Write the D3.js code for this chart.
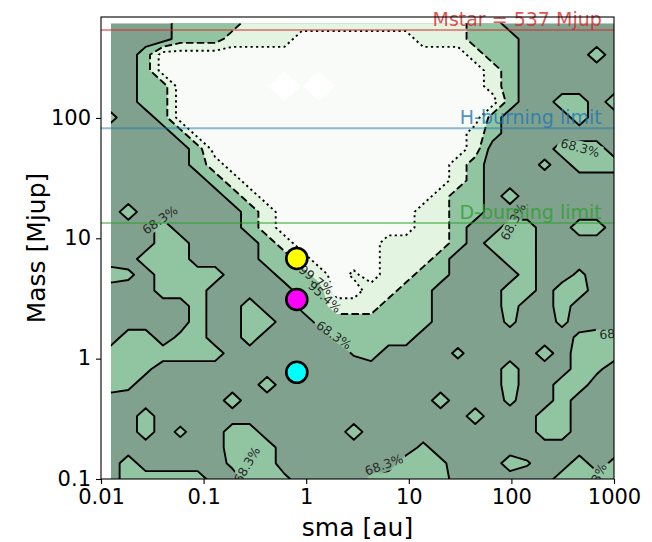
<!DOCTYPE html>
<html><head><meta charset="utf-8">
<script src="https://cdn.jsdelivr.net/npm/d3@7"></script>
<style>body{margin:0;background:#fff}svg{display:block}</style>
</head><body><svg id="c" width="652" height="542"></svg>
<script>
// ---------------- data ----------------
const xDomain = [0.01, 1000];
const yDomain = [0.1, 690];
const xTicks = [0.01, 0.1, 1, 10, 100, 1000];
const xTickLabels = ["0.01", "0.1", "1", "10", "100", "1000"];
const yTicks = [0.1, 1, 10, 100];
const yTickLabels = ["0.1", "1", "10", "100"];
const xLabel = "sma [au]";
const yLabel = "Mass [Mjup]";

// detection-map grid: 30 x 30 log-spaced points
const gridSma = [0.0125, 1000];
const gridMass = [0.1, 612];
const gridN = 30;
// level codes: 0 <68.3%, 1 68.3-95.4%, 2 95.4-99.7%, 3 >99.7%, 4 =100%
const codeValues = {"0": 0, "a": 0.75, "d": 0.6, "1": 1, "2": 2, "c": 2.3, "3": 3, "4": 4};
// rows from the highest mass (top) to the lowest mass (bottom), run-length coded
const gridRows = [
  "0*4 1*4 2*13 1*2 0*7",
  "0*4 1*3 2*4 3*7 2*3 1*3 0*6",
  "0*2 1 3*18 2 1*2 0*4 1 0",
  "0*2 1 3*19 2 1 0*6",
  "0*2 1*2 3*6 4 3 4 3*9 2 1 0*6",
  "0*2 1*2 3*19 1 0*2 1*2 0 1",
  "a 0*2 1 3*18 1 0*4 1 0*2",
  "0*4 1 3*16 2 1 0*7",
  "0*5 1 3*15 2 0*4 1*3 0",
  "0*5 1 2 3*13 2 1 0*3 a 0 1*3",
  "0*6 1 2 3*12 2 1 0*8",
  "0*7 1 2 3*10 2 1*2 0 1 0*6",
  "0 1 0*6 1 2 3*8 2*2 1*2 0*8",
  "0*3 1 0*4 1 2 3*8 2*2 1 0*2 1*2 0*2 1*2 0",
  "0*3 1*2 0*4 1 2 3*5 2*4 1 0 1*3 0*5",
  "0*2 1*3 0*4 1*2 2 3*4 2*3 1 0*3 1*2 0*5",
  "1 a 0 1*4 0*3 1*2 2 3 c 3 2*2 1*2 0*4 1 0*2 a 0*2",
  "0*3 1*3 0*5 1*2 3*2 2*2 1*2 0*4 1*2 0 1*2 0*2",
  "0*5 1 0*2 1 0*2 a 1 2*3 1*3 0*4 1 0*2 1 0*3",
  "0*5 1 0*2 1*2 0*2 a 1*6 0*4 a 0*2 a 0*3",
  "0 1*2 0 a 1 0*2 1 0*4 a 1*4 0*9 a 1*2",
  "1*7 0*7 d 1 0*4 a 0*4 1 0 1*3",
  "1*2 a 0*20 1 0*3 1 a 0",
  "1 a 0*7 1 0*13 1 0*2 1*2 0*2",
  "0*7 1 0*11 1 0*3 a 0*2 1 0*3",
  "0*2 1 0*18 1 0*3 1*2 0*3",
  "0*2 1 0 a 0*2 1*2 0*5 1 0*10 1*2 0*3",
  "0*7 1*3 0*8 a 0*11",
  "0 1 0*5 a 1*2 0*7 1*2 a 0*3 1 d 0*2 1 0 a",
  "0 1*5 0*2 1*2 a 0*4 a 1*4 0*6 1*4"
];
const contourLevels = [0.5, 1.5, 2.5, 3.05];
const levelNames = ["68.3%", "95.4%", "99.7%"];
const fillColors = ["#7fa18d", "#91c5a2", "#e3f4e0", "#f9fbf8", "#ffffff"];

// inline contour labels (position in data units)
const labelSma  = [0.0376, 1.246, 1.52, 1.87, 467, 104, 5.73, 0.265, 1120, 650];
const labelMass = [14.2, 4.51, 3.25, 1.57, 56.4, 13.7, 0.131, 0.131, 1.63, 0.094];
const labelText = ["68.3%", "99.7%", "95.4%", "68.3%", "68.3%", "68.3%", "68.3%", "68.3%", "68.3%", "68.3%"];
const labelAngle = [-35, 38, 42, 35, 15, -62, -20, -60, -5, -65];

// reference mass lines
const refNames = ["Mstar = 537 Mjup", "H-burning limit", "D-burning limit"];
const refMass = [537, 82, 13.4];
const refColors = ["#d62728", "#1f77b4", "#2ca02c"];
const refTextSma = 760;

// companions
const pointSma = [0.81, 0.81, 0.81];
const pointMass = [6.8, 3.1, 0.77];
const pointColors = ["#ffff00", "#ff00ff", "#00ffff"];

// ---------------- drawing ----------------
const FONT = "DejaVu Sans, sans-serif";
const svg = d3.select("#c");
const x = d3.scaleLog().domain(xDomain).range([101, 614]);
const y = d3.scaleLog().domain(yDomain).range([479, 17]);

const lx0 = Math.log10(gridSma[0]), lx1 = Math.log10(gridSma[1]);
const ly0 = Math.log10(gridMass[0]), ly1 = Math.log10(gridMass[1]);
const dlx = (lx1 - lx0) / (gridN - 1), dly = (ly1 - ly0) / (gridN - 1);
const gx = i => x(Math.pow(10, lx0 + i * dlx));
const gy = j => y(Math.pow(10, ly1 - j * dly));

function parseRow(s) {
  const out = [];
  s.split(" ").forEach(t => {
    const [c, n] = t.split("*");
    const k = n ? +n : 1;
    for (let q = 0; q < k; q++) out.push(codeValues[c]);
  });
  return out;
}
const values = gridRows.flatMap(parseRow);

const defs = svg.append("defs");
defs.append("clipPath").attr("id", "dataClip").append("rect")
  .attr("x", gx(0)).attr("y", gy(0))
  .attr("width", gx(gridN - 1) - gx(0)).attr("height", gy(gridN - 1) - gy(0));
defs.append("clipPath").attr("id", "axClip").append("rect")
  .attr("x", x(xDomain[0])).attr("y", y(yDomain[1]))
  .attr("width", x(xDomain[1]) - x(xDomain[0])).attr("height", y(yDomain[0]) - y(yDomain[1]));

const proj = d3.geoTransform({point(px, py) { this.stream.point(gx(px - 0.5), gy(py - 0.5)); }});
const path = d3.geoPath(proj);
const contours = d3.contours().size([gridN, gridN]).thresholds(contourLevels)(values);

const dataG = svg.append("g").attr("clip-path", "url(#dataClip)");
dataG.append("rect").attr("x", gx(0)).attr("y", gy(0))
  .attr("width", gx(gridN - 1) - gx(0)).attr("height", gy(gridN - 1) - gy(0))
  .attr("fill", fillColors[0]);
contours.forEach((c, i) => {
  dataG.append("path").attr("d", path(c)).attr("fill", fillColors[i + 1]).attr("stroke", "none");
});

// labels (measure first to build the mask)
const labG = svg.append("g").attr("clip-path", "url(#axClip)");
const mask = defs.append("mask").attr("id", "lblMask").attr("maskUnits", "userSpaceOnUse")
  .attr("x", 0).attr("y", 0).attr("width", 652).attr("height", 542);
mask.append("rect").attr("width", 652).attr("height", 542).attr("fill", "#fff");
labelText.forEach((t, i) => {
  const cx = x(labelSma[i]), cy = y(labelMass[i]);
  const tx = labG.append("text").attr("transform", `translate(${cx},${cy}) rotate(${labelAngle[i]})`)
    .attr("text-anchor", "middle").attr("dy", "0.35em")
    .attr("font-family", FONT).attr("font-size", 12.5).attr("fill", "#2a2a2a").text(t);
  const w = tx.node().getComputedTextLength();
  mask.append("rect").attr("transform", `translate(${cx},${cy}) rotate(${labelAngle[i]})`)
    .attr("x", -w / 2 - 3).attr("y", -7).attr("width", w + 6).attr("height", 14).attr("fill", "#000");
});

const lineG = dataG.append("g").attr("mask", "url(#lblMask)");
const dashes = [null, "7.5,3.3", "2.2,3.3"];
[0, 1, 2].forEach(i => {
  lineG.append("path").attr("d", path(contours[i])).attr("fill", "none")
    .attr("stroke", "#000").attr("stroke-width", 1.9)
    .attr("stroke-dasharray", dashes[i]).attr("stroke-linejoin", "round");
});
labG.raise();

// reference lines (lines clipped to the axes, texts free like matplotlib text)
const refG = svg.append("g");
refMass.forEach((m, i) => {
  refG.append("line").attr("clip-path", "url(#axClip)")
    .attr("x1", x(xDomain[0])).attr("x2", x(xDomain[1]))
    .attr("y1", y(m)).attr("y2", y(m))
    .attr("stroke", refColors[i]).attr("stroke-opacity", 0.5).attr("stroke-width", 2);
  refG.append("text").attr("x", x(refTextSma)).attr("y", y(m) - 4)
    .attr("text-anchor", "end").attr("font-family", FONT).attr("font-size", 19)
    .attr("fill", refColors[i]).attr("fill-opacity", 0.8).text(refNames[i]);
});

// companions
svg.append("g").selectAll("circle").data(pointMass).join("circle")
  .attr("cx", (d, i) => x(pointSma[i])).attr("cy", d => y(d)).attr("r", 10.5)
  .attr("fill", (d, i) => pointColors[i]).attr("stroke", "#000").attr("stroke-width", 2.6);

// axes
const xAxis = d3.axisBottom(x).tickValues(xTicks).tickFormat((d, i) => xTickLabels[i])
  .tickSize(5).tickSizeOuter(0).tickPadding(5);
const yAxis = d3.axisLeft(y).tickValues(yTicks).tickFormat((d, i) => yTickLabels[i])
  .tickSize(5).tickSizeOuter(0).tickPadding(5);
const gxA = svg.append("g").attr("transform", "translate(0,479)").call(xAxis);
const gyA = svg.append("g").attr("transform", "translate(101,0)").call(yAxis);
[gxA, gyA].forEach(g => {
  g.select(".domain").remove();
  g.selectAll("line").attr("stroke", "#000").attr("stroke-width", 1.1);
  g.selectAll("text").attr("font-family", FONT).attr("font-size", 21).attr("fill", "#000");
});
gyA.selectAll("text").attr("dy", "0.3em");
svg.append("rect").attr("x", 101).attr("y", 17).attr("width", 513).attr("height", 462)
  .attr("fill", "none").attr("stroke", "#000").attr("stroke-width", 1.1);

svg.append("text").attr("x", (101 + 614) / 2).attr("y", 536).attr("text-anchor", "middle")
  .attr("font-family", FONT).attr("font-size", 25).attr("fill", "#000").text(xLabel);
svg.append("text").attr("transform", `translate(45,${(17 + 479) / 2}) rotate(-90)`)
  .attr("text-anchor", "middle").attr("font-family", FONT).attr("font-size", 25)
  .attr("fill", "#000").text(yLabel);
</script>
</body></html>
